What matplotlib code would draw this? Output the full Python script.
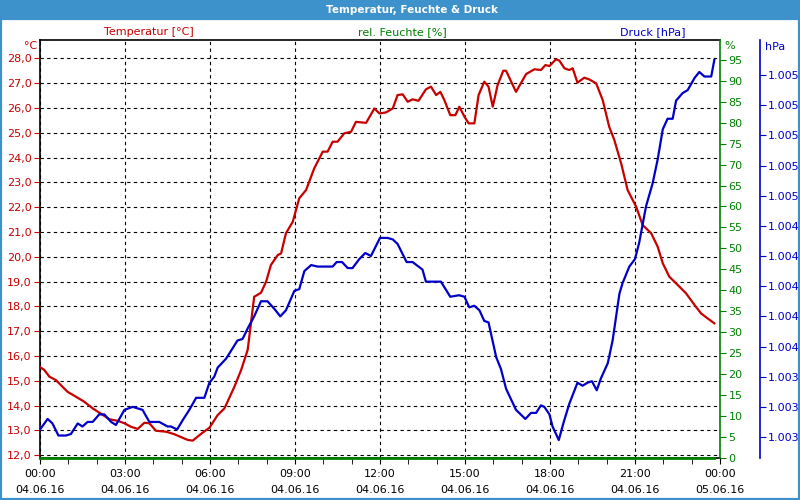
"""Temperatur, Feuchte & Druck - 04.06.16 daily weather chart."""
import matplotlib

matplotlib.use("Agg")
import matplotlib.pyplot as plt
from matplotlib.patches import Rectangle
from matplotlib.ticker import FixedLocator, FuncFormatter, MultipleLocator

# hours since 04.06.16 00:00
temp_hours = [0.00, 0.15, 0.33, 0.56, 0.97, 1.27, 1.56, 1.86, 2.09, 2.45, 2.74, 2.98, 3.21, 3.45,
              3.68, 3.86, 4.09, 4.45, 4.74, 5.21, 5.39, 5.68, 5.98, 6.27, 6.51, 6.86, 7.10, 7.33,
              7.56, 7.80, 7.98, 8.15, 8.39, 8.51, 8.68, 8.92, 9.15, 9.39, 9.68, 9.98, 10.15, 10.33,
              10.50, 10.74, 10.98, 11.15, 11.51, 11.80, 11.98, 12.21, 12.45, 12.62, 12.80, 12.98,
              13.15, 13.36, 13.62, 13.80, 13.98, 14.13, 14.27, 14.48, 14.66, 14.80, 14.98, 15.13,
              15.33, 15.48, 15.68, 15.83, 15.98, 16.15, 16.35, 16.45, 16.63, 16.80, 17.16, 17.45,
              17.68, 17.84, 17.98, 18.21, 18.33, 18.51, 18.68, 18.80, 18.97, 19.21, 19.39, 19.63,
              19.86, 20.09, 20.27, 20.51, 20.74, 21.04, 21.27, 21.57, 21.80, 21.98, 22.21, 22.45,
              22.80, 23.10, 23.33, 23.56, 23.80]
temperature = [15.55, 15.44, 15.17, 15.03, 14.56, 14.36, 14.16, 13.89, 13.72, 13.45, 13.39, 13.29,
               13.15, 13.06, 13.31, 13.29, 12.99, 12.95, 12.85, 12.62, 12.59, 12.86, 13.11, 13.62,
               13.89, 14.76, 15.44, 16.25, 18.39, 18.55, 19.00, 19.67, 20.07, 20.14, 20.95, 21.41,
               22.36, 22.69, 23.57, 24.24, 24.24, 24.64, 24.64, 24.98, 25.04, 25.44, 25.40, 25.98,
               25.78, 25.82, 25.98, 26.52, 26.55, 26.25, 26.35, 26.29, 26.75, 26.86, 26.52, 26.65,
               26.32, 25.71, 25.71, 26.05, 25.65, 25.38, 25.38, 26.52, 27.06, 26.86, 26.05, 26.92,
               27.50, 27.50, 27.06, 26.65, 27.37, 27.56, 27.53, 27.73, 27.69, 27.96, 27.91, 27.60,
               27.53, 27.60, 27.02, 27.22, 27.15, 26.99, 26.32, 25.24, 24.71, 23.77, 22.69, 22.02,
               21.28, 20.95, 20.41, 19.74, 19.20, 18.93, 18.53, 18.06, 17.72, 17.52, 17.32]

press_hours = [0.00, 0.27, 0.44, 0.65, 0.92, 1.09, 1.33, 1.50, 1.68, 1.86, 2.09, 2.27, 2.51, 2.68,
               2.98, 3.27, 3.62, 3.86, 4.21, 4.50, 4.62, 4.84, 5.03, 5.27, 5.51, 5.80, 5.98, 6.15,
               6.27, 6.57, 6.97, 7.15, 7.33, 7.56, 7.80, 8.03, 8.27, 8.48, 8.68, 8.98, 9.15, 9.33,
               9.57, 9.80, 10.33, 10.47, 10.66, 10.86, 11.03, 11.27, 11.48, 11.68, 12.00, 12.27,
               12.45, 12.62, 12.94, 13.15, 13.50, 13.62, 13.98, 14.15, 14.48, 14.79, 14.98, 15.15,
               15.33, 15.51, 15.68, 15.83, 16.10, 16.27, 16.45, 16.80, 17.13, 17.33, 17.51, 17.68,
               17.80, 17.98, 18.09, 18.31, 18.47, 18.68, 18.97, 19.15, 19.32, 19.48, 19.65, 19.80,
               20.04, 20.21, 20.45, 20.56, 20.80, 21.00, 21.15, 21.39, 21.62, 21.80, 21.98, 22.15,
               22.33, 22.45, 22.68, 22.86, 23.10, 23.27, 23.45, 23.69, 23.80]
pressure = [1.00305, 1.00312, 1.00309, 1.00301, 1.00301, 1.00302, 1.00309, 1.00307, 1.00310,
            1.00310, 1.00315, 1.00315, 1.00310, 1.00308, 1.00318, 1.00320, 1.00318, 1.00310,
            1.00310, 1.00307, 1.00307, 1.00305, 1.00311, 1.00318, 1.00326, 1.00326, 1.00336,
            1.00340, 1.00346, 1.00352, 1.00364, 1.00365, 1.00372, 1.00380, 1.00390, 1.00390,
            1.00385, 1.00380, 1.00384, 1.00397, 1.00398, 1.00410, 1.00414, 1.00413, 1.00413,
            1.00416, 1.00416, 1.00412, 1.00412, 1.00418, 1.00422, 1.00420, 1.00432, 1.00432,
            1.00431, 1.00428, 1.00416, 1.00416, 1.00411, 1.00403, 1.00403, 1.00403, 1.00393,
            1.00394, 1.00393, 1.00386, 1.00387, 1.00384, 1.00377, 1.00376, 1.00353, 1.00345,
            1.00332, 1.00318, 1.00312, 1.00316, 1.00316, 1.00321, 1.00320, 1.00315, 1.00307,
            1.00298, 1.00309, 1.00322, 1.00336, 1.00334, 1.00336, 1.00337, 1.00331, 1.00339,
            1.00349, 1.00364, 1.00395, 1.00402, 1.00413, 1.00418, 1.00429, 1.00453, 1.00468,
            1.00484, 1.00504, 1.00511, 1.00511, 1.00523, 1.00528, 1.00530, 1.00538, 1.00542,
            1.00539, 1.00539, 1.00550]

# humidity sensor reported 0 % all day
hum_hours = [0.00, 23.80]
humidity = [0, 0]

x_ticks = [0, 3, 6, 9, 12, 15, 18, 21, 24]
x_labels = ["00:00\n04.06.16", "03:00\n04.06.16", "06:00\n04.06.16", "09:00\n04.06.16",
            "12:00\n04.06.16", "15:00\n04.06.16", "18:00\n04.06.16", "21:00\n04.06.16",
            "00:00\n05.06.16"]
temp_ticks = list(range(12, 29))
hum_ticks = list(range(0, 100, 5))
press_ticks = [1.0030 + 0.0002 * k for k in range(13)]

RED = "#c80000"
GREEN = "#008000"
BLUE = "#0000c8"
BAR = "#3e92cc"
FS = 8

plt.rcParams["font.family"] = ["DejaVu Sans"]
fig = plt.figure(figsize=(8, 5), dpi=100)
fig.patch.set_facecolor("white")

# title bar + frame
fig.patches.append(Rectangle((0, 0.96), 1, 0.04, transform=fig.transFigure,
                             facecolor=BAR, edgecolor="none", zorder=0))
fig.patches.append(Rectangle((0.0015, 0.003), 0.997, 0.96, transform=fig.transFigure,
                             facecolor="none", edgecolor=BAR, lw=1.6, zorder=0))
fig.text(0.515, 0.98, "Temperatur, Feuchte & Druck", color="white", fontsize=7.5,
         fontweight="bold", ha="center", va="center")

ax = fig.add_axes([0.05, 0.084, 0.85, 0.836])
ax.set_xlim(0, 24)
ax.set_ylim(11.89, 28.74)
ax.plot(temp_hours, temperature, color=RED, lw=1.6, zorder=5)

ax.xaxis.set_major_locator(FixedLocator(x_ticks))
ax.set_xticklabels(x_labels, fontsize=FS, linespacing=1.7)
ax.xaxis.set_minor_locator(MultipleLocator(1))
ax.tick_params(axis="x", which="both", direction="out", length=4, color="black", pad=4)
ax.yaxis.set_major_locator(FixedLocator(temp_ticks))
ax.yaxis.set_major_formatter(FuncFormatter(lambda v, p: f"{v:.1f}".replace(".", ",")))
ax.tick_params(axis="y", direction="out", length=4, color=RED, labelcolor=RED,
               labelsize=FS, pad=2)
ax.grid(True, which="major", color="black", lw=0.8, linestyle=(0, (3, 3)))
ax.spines["right"].set_visible(False)
for s in ("left", "top", "bottom"):
    ax.spines[s].set_linewidth(1.2)

# humidity axis
axh = ax.twinx()
axh.set_ylim(-0.05, 99.75)
axh.plot(hum_hours, humidity, color=GREEN, lw=2.0, clip_on=False, zorder=5)
axh.yaxis.set_major_locator(FixedLocator(hum_ticks))
axh.tick_params(axis="y", direction="out", length=4, color=GREEN, labelcolor=GREEN,
                labelsize=FS, pad=2)
axh.spines["right"].set_color(GREEN)
axh.spines["right"].set_linewidth(1.2)
for s in ("left", "top", "bottom"):
    axh.spines[s].set_visible(False)

# pressure axis
axp = ax.twinx()
axp.spines["right"].set_position(("axes", 1.0588))
axp.set_ylim(1.002861, 1.005632)
axp.plot(press_hours, pressure, color=BLUE, lw=1.6, zorder=5)
axp.yaxis.set_major_locator(FixedLocator(press_ticks))
axp.yaxis.set_major_formatter(FuncFormatter(lambda v, p: f"{v:.3f}"))
axp.tick_params(axis="y", direction="out", length=4, color=BLUE, labelcolor=BLUE,
                labelsize=FS, pad=2)
axp.spines["right"].set_color(BLUE)
axp.spines["right"].set_linewidth(1.2)
for s in ("left", "top", "bottom"):
    axp.spines[s].set_visible(False)

# series titles and units
fig.text(0.186, 0.936, "Temperatur [°C]", color=RED, fontsize=FS, ha="center", va="center")
fig.text(0.503, 0.936, "rel. Feuchte [%]", color=GREEN, fontsize=FS, ha="center", va="center")
fig.text(0.816, 0.936, "Druck [hPa]", color=BLUE, fontsize=FS, ha="center", va="center")
fig.text(0.047, 0.908, "°C", color=RED, fontsize=FS, ha="right", va="center")
fig.text(0.905, 0.908, "%", color=GREEN, fontsize=FS, ha="left", va="center")
fig.text(0.956, 0.906, "hPa", color=BLUE, fontsize=FS, ha="left", va="center")

fig.savefig("out.png", dpi=100)
plt.close(fig)
